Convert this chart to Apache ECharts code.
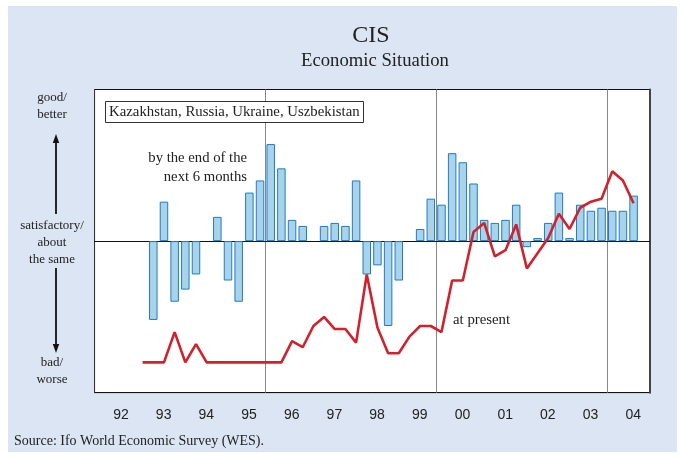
<!DOCTYPE html>
<html>
<head>
<meta charset="utf-8">
<script src="https://cdn.jsdelivr.net/npm/echarts@6/dist/echarts.min.js"></script>
<style>
  body { margin: 0; background: #fff; }
  #bg { position: absolute; left: 8px; top: 6px; width: 669px; height: 446px; background: #dbe5f3; }
  #chart { position: absolute; left: 0; top: 0; width: 680px; height: 454px; }
</style>
</head>
<body>
<div id="bg"></div>
<div id="chart"></div>
<script>
// years shown on the x axis, each split into four quarters
var years = ['92', '93', '94', '95', '96', '97', '98', '99', '00', '01', '02', '03', '04'];
var quarters = [];
years.forEach(function (y) {
  ['Q1', 'Q2', 'Q3', 'Q4'].forEach(function (q) { quarters.push(y + q); });
});

// expectations: by the end of the next 6 months (bars)
var expected = [
  null, null, null, null,   // 92
  null, -52, 26, -40,       // 93
  -32, -22, null, 16,       // 94
  -26, -40, 32, 40,         // 95
  64, 48, 14, 10,           // 96
  null, 10, 12, 10,         // 97
  40, -22, -16, -56,        // 98
  -26, null, 8, 28,         // 99
  24, 58, 52, 38,           // 00
  14, 12, 14, 24,           // 01
  -4, 2, 12, 32,            // 02
  2, 24, 20, 22,            // 03
  20, 20, 30, null          // 04
];

// assessment at present (line)
var present = [
  null, null, null, null,
  -80, -80, -80, -60,
  -80, -68, -80, -80,
  -80, -80, -80, -80,
  -80, -80, -66, -70,
  -56, -50, -58, -58,
  -67, -22, -57, -74,
  -74, -63, -56, -56,
  -60, -26, -26, 6,
  12, -10, -6, 11,
  -18, -8, 2, 18,
  8, 22, 26, 28,
  46, 40, 25, null
];

var serif = 'Liberation Serif';
var ink = '#222';

var myChart = echarts.init(document.getElementById('chart'));
var option = {
  backgroundColor: 'transparent',
  animation: false,
  title: {
    text: 'Kazakhstan, Russia, Ukraine, Uszbekistan',
    left: 105, top: 101,
    padding: [2, 4, 2, 4],
    borderColor: '#333', borderWidth: 1, backgroundColor: '#fff',
    textStyle: { fontFamily: serif, fontSize: 14.8, lineHeight: 18, fontWeight: 'normal', color: ink }
  },
  grid: {
    show: true,
    left: 94.6, right: 30.4, top: 89.5, bottom: 61.3,
    backgroundColor: '#fff',
    borderColor: '#777', borderWidth: 1
  },
  xAxis: [
    {
      type: 'category',
      data: quarters,
      boundaryGap: true,
      axisLine: { lineStyle: { color: '#111', width: 1.2 } },
      axisTick: {
        inside: true, length: 4,
        interval: function (i) { return i % 4 === 0; },
        lineStyle: { color: '#111' }
      },
      axisLabel: { show: false },
      splitLine: {
        show: true,
        interval: function (i) { return i > 0 && i % 16 === 0; },
        lineStyle: { color: '#888', width: 1 }
      }
    },
    {
      type: 'category',
      data: years,
      position: 'bottom',
      boundaryGap: true,
      axisLine: { show: false },
      axisTick: { show: false },
      axisLabel: {
        margin: 15,
        padding: [0, 0, 0, 10],
        fontFamily: 'Liberation Sans', fontSize: 14, color: ink
      }
    }
  ],
  yAxis: [
    {
      type: 'value',
      min: -100, max: 100, interval: 100,
      axisLine: { show: true, lineStyle: { color: '#333', width: 1 } },
      axisTick: { show: false },
      axisLabel: { show: false },
      splitLine: { lineStyle: { color: '#111', width: 1 } }
    },
    {
      type: 'value',
      position: 'right',
      min: -100, max: 100, interval: 100,
      axisLine: { show: true, lineStyle: { color: '#444', width: 2 } },
      axisTick: { show: false },
      axisLabel: { show: false },
      splitLine: { show: false }
    }
  ],
  graphic: [
    { type: 'text', x: 371, y: 36, style: { text: 'CIS', fontFamily: serif, fontSize: 24, fill: ink, align: 'center', verticalAlign: 'middle' } },
    { type: 'text', x: 375, y: 61, style: { text: 'Economic Situation', fontFamily: serif, fontSize: 18.7, fill: ink, align: 'center', verticalAlign: 'middle' } },
    { type: 'text', x: 52, y: 89, style: { text: 'good/\nbetter', fontFamily: serif, fontSize: 13, lineHeight: 17, fill: ink, align: 'center' } },
    { type: 'text', x: 52, y: 217, style: { text: 'satisfactory/\nabout\nthe same', fontFamily: serif, fontSize: 13, lineHeight: 17, fill: ink, align: 'center' } },
    { type: 'text', x: 52, y: 354, style: { text: 'bad/\nworse', fontFamily: serif, fontSize: 13, lineHeight: 17, fill: ink, align: 'center' } },
    { type: 'line', shape: { x1: 56, y1: 140, x2: 56, y2: 214 }, style: { stroke: '#111', lineWidth: 1.8 } },
    { type: 'line', shape: { x1: 56, y1: 268, x2: 56, y2: 346 }, style: { stroke: '#111', lineWidth: 1.8 } },
    { type: 'polygon', shape: { points: [[56, 134], [52.8, 143], [59.2, 143]] }, style: { fill: '#111' } },
    { type: 'polygon', shape: { points: [[56, 353], [52.8, 344], [59.2, 344]] }, style: { fill: '#111' } },
    { type: 'text', x: 247, y: 149, style: { text: 'by the end of the\nnext 6 months', fontFamily: serif, fontSize: 14.7, lineHeight: 18.5, fill: ink, align: 'right' } },
    { type: 'text', x: 453, y: 313, style: { text: 'at present', fontFamily: serif, fontSize: 14.8, fill: ink } },
    { type: 'text', x: 14, y: 434, style: { text: 'Source: Ifo World Economic Survey (WES).', fontFamily: serif, fontSize: 14, fill: ink } }
  ],
  series: [
    {
      name: 'by the end of the next 6 months',
      type: 'bar',
      xAxisIndex: 0,
      data: expected,
      barWidth: 8.5,
      itemStyle: { color: '#a8d3eb', borderColor: '#1f7cc0', borderWidth: 1 }
    },
    {
      name: 'at present',
      type: 'line',
      xAxisIndex: 0,
      data: present,
      symbol: 'none',
      lineStyle: { color: '#d0222c', width: 2.6 }
    }
  ]
};
myChart.setOption(option);
</script>
</body>
</html>
